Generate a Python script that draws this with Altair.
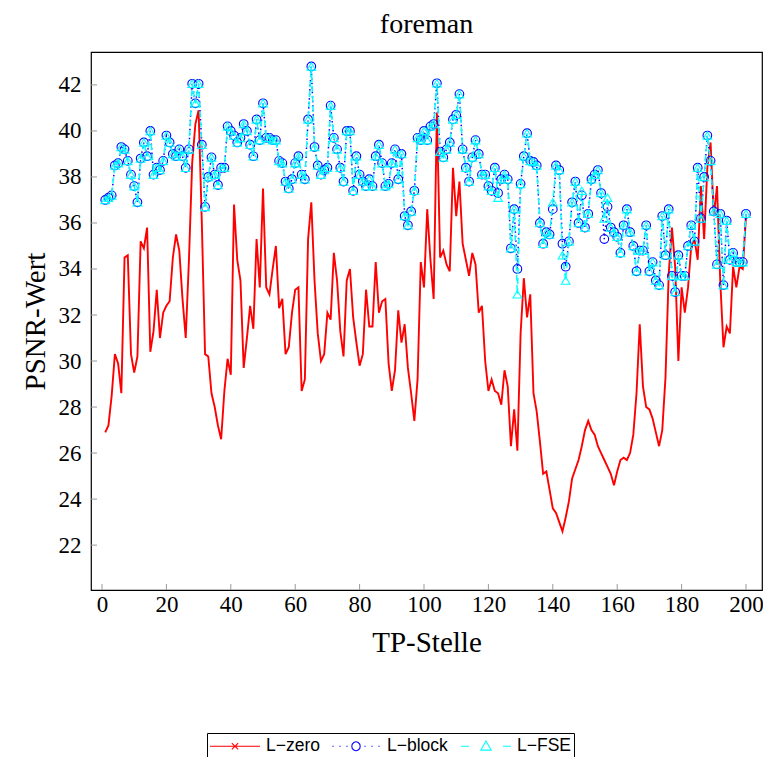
import altair as alt
import pandas as pd

# ---------------- data ----------------
positions = list(range(1, 201))

l_zero = [
    26.9, 27.2, 28.5, 30.3, 29.9, 28.6, 34.5, 34.6, 30.3, 29.5,
    30.2, 35.2, 34.9, 35.8, 30.4, 31.3, 33.1, 31.0, 32.1, 32.4,
    32.6, 34.5, 35.5, 34.8, 32.7, 31.0, 34.4, 38.6, 40.3, 40.9,
    36.0, 30.3, 30.2, 28.6, 28.0, 27.2, 26.6, 28.7, 30.1, 29.4,
    36.8, 34.4, 33.5, 29.7, 31.0, 32.4, 31.4, 35.3, 33.2, 37.5,
    33.2, 32.9, 34.0, 35.0, 32.3, 32.7, 30.3, 30.6, 32.1, 33.1,
    33.2, 28.7, 29.2, 35.3, 36.9, 33.5, 31.2, 30.0, 30.3, 32.1,
    31.8, 34.7, 33.5, 31.3, 30.2, 33.5, 34.0, 31.9, 30.8, 29.8,
    30.3, 33.1, 31.5, 31.5, 34.3, 32.1, 32.6, 32.7, 29.9, 28.7,
    29.6, 32.2, 30.8, 31.6, 29.7, 28.6, 27.4, 29.2, 34.3, 33.2,
    36.6, 34.4, 32.7, 40.8, 34.5, 34.8, 34.2, 33.9, 38.4, 36.3,
    37.8, 35.1, 34.4, 33.7, 34.7, 34.2, 32.1, 32.4, 30.0, 28.7,
    29.2, 28.7, 28.6, 28.1, 29.6, 28.9, 26.3, 27.9, 26.1, 31.2,
    33.6, 31.9, 32.9, 28.6, 27.8, 26.5, 25.1, 25.2, 24.4, 23.6,
    23.4, 23.0, 22.6, 23.2, 23.9, 24.9, 25.3, 25.7, 26.3, 27.0,
    27.4, 27.0, 26.8, 26.3, 26.0, 25.7, 25.4, 25.1, 24.6, 25.2,
    25.7, 25.8, 25.7, 26.0, 26.8, 28.6, 31.6, 28.9, 28.0, 27.9,
    27.5, 26.9, 26.3, 27.0, 29.3, 33.8, 35.8, 34.1, 30.0, 33.2,
    32.1, 33.2, 35.0, 35.3, 34.4, 37.6, 35.3, 38.4, 39.5, 36.3,
    37.6, 33.5, 30.6, 31.5, 31.2, 34.1, 33.2, 34.1, 34.0, 36.3,
]

l_block = [
    37.0, 37.1, 37.2, 38.5, 38.6, 39.3, 39.2, 38.7, 38.1, 37.6,
    36.9, 38.8, 39.5, 38.9, 40.0, 38.1, 38.4, 38.3, 38.7, 39.8,
    39.5, 39.0, 38.9, 39.2, 38.9, 38.4, 39.2, 42.05, 41.2, 42.05,
    39.4, 36.7, 38.0, 38.85, 38.1, 37.65, 38.4, 38.4, 40.2, 40.0,
    39.8, 39.5, 39.7, 40.3, 40.0, 39.4, 38.9, 40.5, 39.6, 41.2,
    39.7, 39.7, 39.6, 39.6, 38.7, 38.6, 37.8, 37.5, 37.9, 38.6,
    38.9, 38.1, 37.9, 40.5, 42.8, 39.3, 38.5, 38.1, 38.3, 38.4,
    41.1, 39.7, 39.2, 38.4, 37.8, 40.0, 40.0, 37.4, 38.9, 38.1,
    37.8, 37.6, 37.9, 37.6, 38.9, 39.4, 38.6, 37.6, 37.7, 38.6,
    39.2, 37.9, 39.0, 36.3, 35.9, 36.5, 37.4, 39.7, 39.6, 40.0,
    39.6, 40.2, 40.3, 42.07, 39.1, 38.85, 39.2, 39.5, 40.5, 40.7,
    41.6, 39.2, 38.4, 37.8, 38.85, 39.6, 39.0, 38.1, 38.1, 37.6,
    37.4, 38.4, 37.3, 37.9, 38.1, 37.9, 34.9, 36.6, 34.0, 37.7,
    38.9, 39.9, 38.7, 38.65, 38.5, 36.0, 35.1, 35.6, 35.5, 36.6,
    38.5, 38.3, 35.1, 34.1, 35.2, 36.9, 37.8, 36.0, 37.2, 35.8,
    36.4, 37.9, 38.1, 38.3, 37.3, 35.3, 36.7, 35.8, 35.6, 35.4,
    34.7, 35.9, 36.6, 35.6, 35.0, 33.9, 34.8, 34.8, 35.9, 33.9,
    34.3, 33.5, 33.3, 36.3, 34.6, 36.6, 33.7, 33.0, 34.6, 33.7,
    33.7, 35.0, 35.9, 35.2, 38.4, 36.2, 38.0, 39.8, 38.7, 36.5,
    34.2, 36.4, 33.3, 36.1, 34.4, 34.7, 34.3, 34.3, 34.3, 36.4,
]

l_fse = list(l_block)
fse_diff = {123: 37.1, 129: 32.9, 140: 36.9, 143: 34.6, 144: 33.5,
            149: 37.4, 156: 36.2, 157: 37.1}
for k, v in fse_diff.items():
    l_fse[k - 1] = v

series_names = ["L\u2212zero", "L\u2212block", "L\u2212FSE"]
series_colors = ["#ff0000", "#0000ff", "#00ffff"]
y_ticks = [22, 24, 26, 28, 30, 32, 34, 36, 38, 40, 42]
x_ticks = [0, 20, 40, 60, 80, 100, 120, 140, 160, 180, 200]


# ---------------- legend symbols: line sample + marker ----------------
LEG_UNIT = 9.0      # px per path unit (sqrt(symbolSize)/2)
LEG_CENTER = 10.0   # px from entry start where vega centres the symbol


def u(px):
    return round((px - LEG_CENTER) / LEG_UNIT, 3)


def seg(a, b):
    return f"M{u(a)},0H{u(b)}"


def circle(cx, r):
    rr = round(r / LEG_UNIT, 3)
    return (f"M{u(cx + r)},0A{rr},{rr} 0 1,1 {u(cx - r)},0"
            f"A{rr},{rr} 0 1,1 {u(cx + r)},0")


def cross(cx, h):
    hh = round(h / LEG_UNIT, 3)
    return (f"M{u(cx - h)},{-hh}L{u(cx + h)},{hh}"
            f"M{u(cx - h)},{hh}L{u(cx + h)},{-hh}")


def triangle(cx, hw):
    hh = round(hw / LEG_UNIT, 3)
    return (f"M{u(cx)},{round(-1.0 * hh, 3)}L{u(cx + hw)},{round(0.75 * hh, 3)}"
            f"L{u(cx - hw)},{round(0.75 * hh, 3)}Z")


legend_paths = [
    seg(0, 50) + cross(25, 3.2),
    "".join(seg(d - 0.6, d + 0.6) for d in [2, 9, 16, 34, 41, 48]) + circle(25, 4.2),
    seg(0, 8) + seg(42, 50) + triangle(25, 5.2),
]

df_zero = pd.DataFrame({"x": positions, "v": l_zero})
df_block = pd.DataFrame({"x": positions, "v": l_block})
df_fse = pd.DataFrame({"x": positions, "v": l_fse})
df_legend = pd.DataFrame({"series": series_names, "x": [0, 0, 0], "v": [30, 30, 30]})
df_yt = pd.DataFrame({"v": y_ticks})
df_xt = pd.DataFrame({"x": x_ticks})

W, H = 671, 538
SERIF = "Liberation Serif"

xscale = alt.Scale(domain=[-3.42, 204.97], nice=False, zero=False)
yscale = alt.Scale(domain=[20.05, 43.43], nice=False, zero=False)
xaxis = alt.Axis(values=x_ticks, title="TP-Stelle", grid=False, domain=False,
                 ticks=False, labelFont=SERIF, labelFontSize=23, labelColor="black",
                 labelPadding=3, titleFont=SERIF, titleFontSize=29,
                 titleFontWeight="normal", titleColor="black", titlePadding=12)
yaxis = alt.Axis(values=y_ticks, title="PSNR-Wert", grid=False, domain=False,
                 ticks=False, labelFont=SERIF, labelFontSize=23, labelColor="black",
                 labelPadding=10, titleFont=SERIF, titleFontSize=29,
                 titleFontWeight="normal", titleColor="black", titlePadding=8)

X = alt.X("x:Q", scale=xscale, axis=xaxis)
Y = alt.Y("v:Q", scale=yscale, axis=yaxis)

red_line = alt.Chart(df_zero).mark_line(color="#ff0000", strokeWidth=1.9).encode(x=X, y=Y)
blue_line = alt.Chart(df_block).mark_line(color="#0000ff", strokeWidth=1.5,
                                          strokeDash=[1.5, 3]).encode(x=X, y=Y)
blue_pts = alt.Chart(df_block).mark_point(shape="circle", filled=False, color="#0000ff",
                                          size=75, strokeWidth=1.1, opacity=1).encode(x=X, y=Y)
cyan_line = alt.Chart(df_fse).mark_line(color="#00ffff", strokeWidth=1.5,
                                        strokeDash=[6, 4]).encode(x=X, y=Y)
cyan_pts = alt.Chart(df_fse).mark_point(shape="triangle-up", filled=False, color="#00ffff",
                                        size=75, strokeWidth=1.1, opacity=1).encode(x=X, y=Y)

ytick_layer = alt.Chart(df_yt).mark_rule(color="#999999", strokeWidth=1).encode(
    y=Y, x=alt.value(0), x2=alt.value(6))
xtick_layer = alt.Chart(df_xt).mark_rule(color="#999999", strokeWidth=1).encode(
    x=X, y=alt.value(H), y2=alt.value(H - 6))

legend_layer = alt.Chart(df_legend).mark_point(filled=False, opacity=0).encode(
    x=X, y=Y,
    color=alt.Color("series:N", scale=alt.Scale(domain=series_names, range=series_colors),
                    legend=alt.Legend(title=None)),
    shape=alt.Shape("series:N", scale=alt.Scale(domain=series_names, range=legend_paths),
                    legend=alt.Legend(title=None)),
)

chart = alt.layer(
    ytick_layer, xtick_layer, red_line, blue_line, blue_pts, cyan_line, cyan_pts, legend_layer
).properties(
    width=W, height=H,
    title=alt.Title("foreman", font=SERIF, fontSize=28, fontWeight="normal",
                    color="black", offset=13),
    autosize=alt.AutoSizeParams(type="none"),
    padding={"left": 83, "top": 44, "right": 1, "bottom": 167},
).configure_view(
    stroke="black", strokeWidth=1.2
).configure_legend(
    orient="none", legendX=116, legendY=681, direction="horizontal",
    strokeColor="black", fillColor="white", padding=3, cornerRadius=0,
    labelFont="Liberation Sans", labelFontSize=17.5, labelColor="black",
    symbolSize=324, symbolStrokeWidth=1.1, symbolOpacity=1,
    labelOffset=36, columnPadding=10, symbolFillColor="transparent",
)

chart.save("out.html", embed_options={"renderer": "svg", "actions": False})
